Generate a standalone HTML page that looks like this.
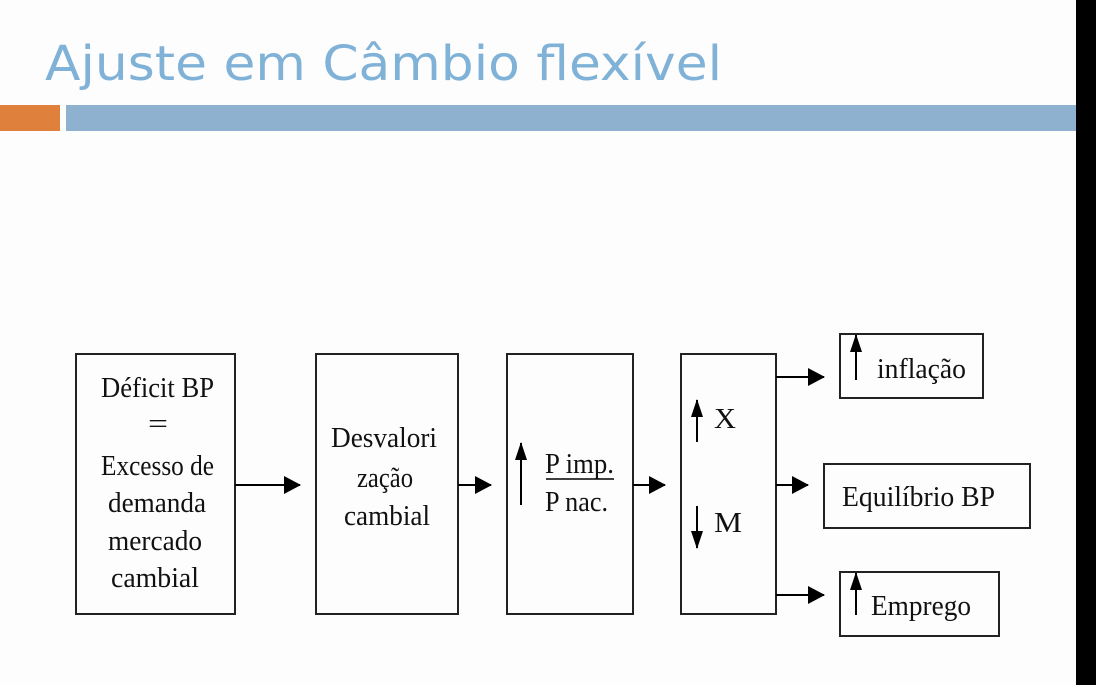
<!DOCTYPE html>
<html><head><meta charset="utf-8"><style>
html,body{margin:0;padding:0;background:#fff;}
svg{display:block}
</style></head><body>
<svg width="1096" height="685" viewBox="0 0 1096 685" xmlns="http://www.w3.org/2000/svg">
<defs>
<marker id="ah" markerWidth="17" markerHeight="18" refX="16" refY="9" orient="auto" markerUnits="userSpaceOnUse"><path d="M0,0 L17,9 L0,18 Z" fill="#000"/></marker>
<marker id="av" markerWidth="18" markerHeight="12" refX="17" refY="6" orient="auto" markerUnits="userSpaceOnUse"><path d="M0,0 L18,6 L0,12 Z" fill="#000"/></marker>
</defs>
<rect x="0" y="0" width="1096" height="685" fill="#fdfdfd"/>
<rect x="1076" y="0" width="20" height="685" fill="#000"/>
<text x="45" y="80" font-family="'DejaVu Sans', sans-serif" font-size="48" fill="#80b2d8" textLength="677" lengthAdjust="spacingAndGlyphs">Ajuste em Câmbio flexível</text>
<rect x="0" y="105" width="60" height="26" fill="#e0803d"/>
<rect x="66" y="105" width="1010" height="26" fill="#8fb1d0"/>
<g fill="none" stroke="#222" stroke-width="2">
<rect x="76" y="354" width="159" height="260"/>
<rect x="316" y="354" width="142" height="260"/>
<rect x="507" y="354" width="126" height="260"/>
<rect x="681" y="354" width="95" height="260"/>
<rect x="840" y="334" width="143" height="64"/>
<rect x="824" y="464" width="206" height="64"/>
<rect x="840" y="572" width="159" height="64"/>
</g>
<g stroke="#000" stroke-width="2" fill="none">
<line x1="235" y1="485" x2="300" y2="485" marker-end="url(#ah)"/>
<line x1="458" y1="485" x2="491" y2="485" marker-end="url(#ah)"/>
<line x1="633" y1="485" x2="665" y2="485" marker-end="url(#ah)"/>
<line x1="776" y1="377" x2="824" y2="377" marker-end="url(#ah)"/>
<line x1="776" y1="485" x2="808" y2="485" marker-end="url(#ah)"/>
<line x1="776" y1="595" x2="824" y2="595" marker-end="url(#ah)"/>
<line x1="521" y1="505" x2="521" y2="443" marker-end="url(#av)"/>
<line x1="697" y1="442" x2="697" y2="400" marker-end="url(#av)"/>
<line x1="697" y1="506" x2="697" y2="548" marker-end="url(#av)"/>
<line x1="856" y1="380" x2="856" y2="335" marker-end="url(#av)"/>
<line x1="856" y1="615" x2="856" y2="573" marker-end="url(#av)"/>
<line x1="546" y1="479" x2="614" y2="479" stroke-width="1.5"/>
</g>
<g font-family="'Liberation Serif', serif" font-size="28" fill="#111" lengthAdjust="spacingAndGlyphs">
<text x="101" y="397" textLength="113" lengthAdjust="spacingAndGlyphs">Déficit  BP</text>
<text x="148" y="433" textLength="20" lengthAdjust="spacingAndGlyphs">=</text>
<text x="101" y="475" textLength="113" lengthAdjust="spacingAndGlyphs">Excesso de</text>
<text x="108" y="512" textLength="98" lengthAdjust="spacingAndGlyphs">demanda</text>
<text x="108" y="550" textLength="94" lengthAdjust="spacingAndGlyphs">mercado</text>
<text x="111" y="587" textLength="88" lengthAdjust="spacingAndGlyphs">cambial</text>
<text x="331" y="447" textLength="106" lengthAdjust="spacingAndGlyphs">Desvalori</text>
<text x="357" y="487" textLength="56" lengthAdjust="spacingAndGlyphs">zação</text>
<text x="344" y="525" textLength="86" lengthAdjust="spacingAndGlyphs">cambial</text>
<text x="545" y="473" textLength="69" lengthAdjust="spacingAndGlyphs">P imp.</text>
<text x="545" y="511" textLength="63" lengthAdjust="spacingAndGlyphs">P nac.</text>
<text x="714" y="428" textLength="22" lengthAdjust="spacingAndGlyphs">X</text>
<text x="714" y="532" textLength="28" lengthAdjust="spacingAndGlyphs">M</text>
<text x="877" y="378" textLength="89" lengthAdjust="spacingAndGlyphs">inflação</text>
<text x="842" y="506" textLength="153" lengthAdjust="spacingAndGlyphs">Equilíbrio BP</text>
<text x="871" y="615" textLength="100" lengthAdjust="spacingAndGlyphs">Emprego</text>
</g>
</svg>
</body></html>
